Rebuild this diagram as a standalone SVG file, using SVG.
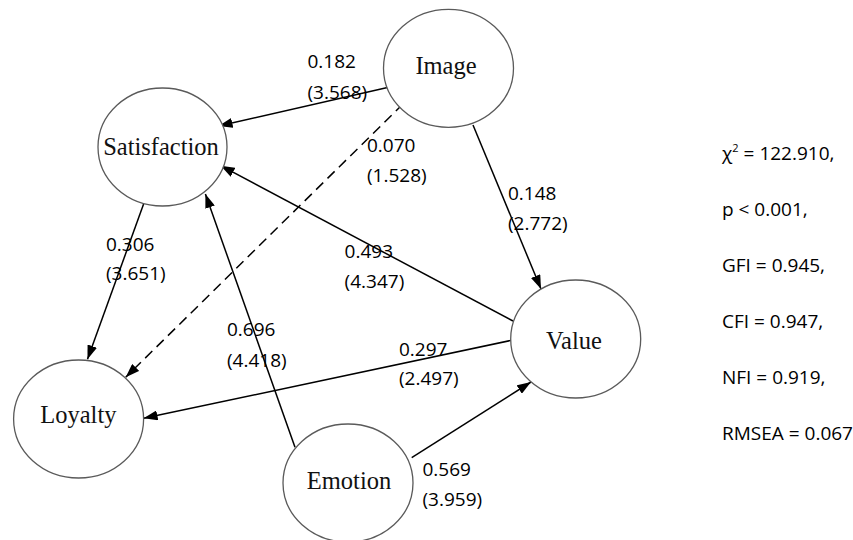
<svg xmlns="http://www.w3.org/2000/svg" width="853" height="540" viewBox="0 0 853 540">
  <defs>
    <marker id="arrow" markerUnits="userSpaceOnUse" markerWidth="14" markerHeight="10" refX="14" refY="5" orient="auto">
      <path d="M0,0 L14,5 L0,10 z" fill="#000"/>
    </marker>
    <style>
      .node ellipse { fill: #fff; stroke: #5a5a5a; stroke-width: 1.3; }
      .node text { font-family: "Liberation Serif", "Times New Roman", serif; font-size: 24.5px; fill: #111; text-anchor: middle; }
      .edge { stroke: #000; stroke-width: 1.5; fill: none; marker-end: url(#arrow); }
      .dashed { stroke-dasharray: 10 6; }
      .lbl { font-family: "Open Sans", "Liberation Sans", sans-serif; font-size: 19px; fill: #000; }
      .fit { font-family: "Open Sans", "Liberation Sans", sans-serif; font-size: 19px; fill: #000; }
    </style>
  </defs>
  <rect width="853" height="540" fill="#fff"/>

  <!-- paths between constructs -->
  <g id="connectors">
    <line class="edge" x1="387.5" y1="87.5" x2="218.6" y2="126"/>
    <line class="edge dashed" x1="403" y1="104" x2="125.7" y2="377.3"/>
    <line class="edge" x1="473" y1="125" x2="541" y2="289"/>
    <line class="edge" x1="513" y1="321" x2="220.7" y2="165.7"/>
    <line class="edge" x1="143.6" y1="204" x2="87.5" y2="359.3"/>
    <line class="edge" x1="295" y1="447.3" x2="205.4" y2="194"/>
    <line class="edge" x1="513" y1="340" x2="143.6" y2="418.3"/>
    <line class="edge" x1="411.7" y1="457.7" x2="531" y2="382"/>
  </g>

  <!-- constructs -->
  <g id="image" class="node">
    <ellipse cx="448.5" cy="68.3" rx="65" ry="59"/>
    <text x="446" y="74">Image</text>
  </g>
  <g id="satisfaction" class="node">
    <ellipse cx="162.5" cy="147" rx="64.5" ry="59"/>
    <text x="161" y="155">Satisfaction</text>
  </g>
  <g id="loyalty" class="node">
    <ellipse cx="78.6" cy="419" rx="65" ry="59"/>
    <text x="78.4" y="422.7">Loyalty</text>
  </g>
  <g id="value" class="node">
    <ellipse cx="575.7" cy="339" rx="65" ry="59"/>
    <text x="574" y="349">Value</text>
  </g>
  <g id="emotion" class="node">
    <ellipse cx="348" cy="483" rx="65" ry="59"/>
    <text x="349" y="488.7">Emotion</text>
  </g>

  <!-- path coefficients (t-values) -->
  <g id="labels">
    <text class="lbl" x="307.5" y="68.3">0.182</text>
    <text class="lbl" x="307.5" y="98.5">(3.568)</text>
    <text class="lbl" x="367" y="151.7">0.070</text>
    <text class="lbl" x="367" y="181.7">(1.528)</text>
    <text class="lbl" x="508" y="200">0.148</text>
    <text class="lbl" x="508" y="230">(2.772)</text>
    <text class="lbl" x="106" y="250.7">0.306</text>
    <text class="lbl" x="106" y="280">(3.651)</text>
    <text class="lbl" x="344.6" y="258">0.493</text>
    <text class="lbl" x="344.6" y="288">(4.347)</text>
    <text class="lbl" x="227" y="336">0.696</text>
    <text class="lbl" x="227" y="366.5">(4.418)</text>
    <text class="lbl" x="399" y="356">0.297</text>
    <text class="lbl" x="399" y="385">(2.497)</text>
    <text class="lbl" x="422.5" y="476">0.569</text>
    <text class="lbl" x="422.5" y="506">(3.959)</text>
  </g>

  <!-- model fit indices -->
  <g id="fit">
    <text class="fit" x="722" y="160">χ<tspan font-size="11" dy="-8">2</tspan><tspan dy="8"> = 122.910,</tspan></text>
    <text class="fit" x="722" y="216">p &lt; 0.001,</text>
    <text class="fit" x="722" y="272">GFI = 0.945,</text>
    <text class="fit" x="722" y="328">CFI = 0.947,</text>
    <text class="fit" x="722" y="384">NFI = 0.919,</text>
    <text class="fit" x="722" y="440">RMSEA = 0.067</text>
  </g>
</svg>
